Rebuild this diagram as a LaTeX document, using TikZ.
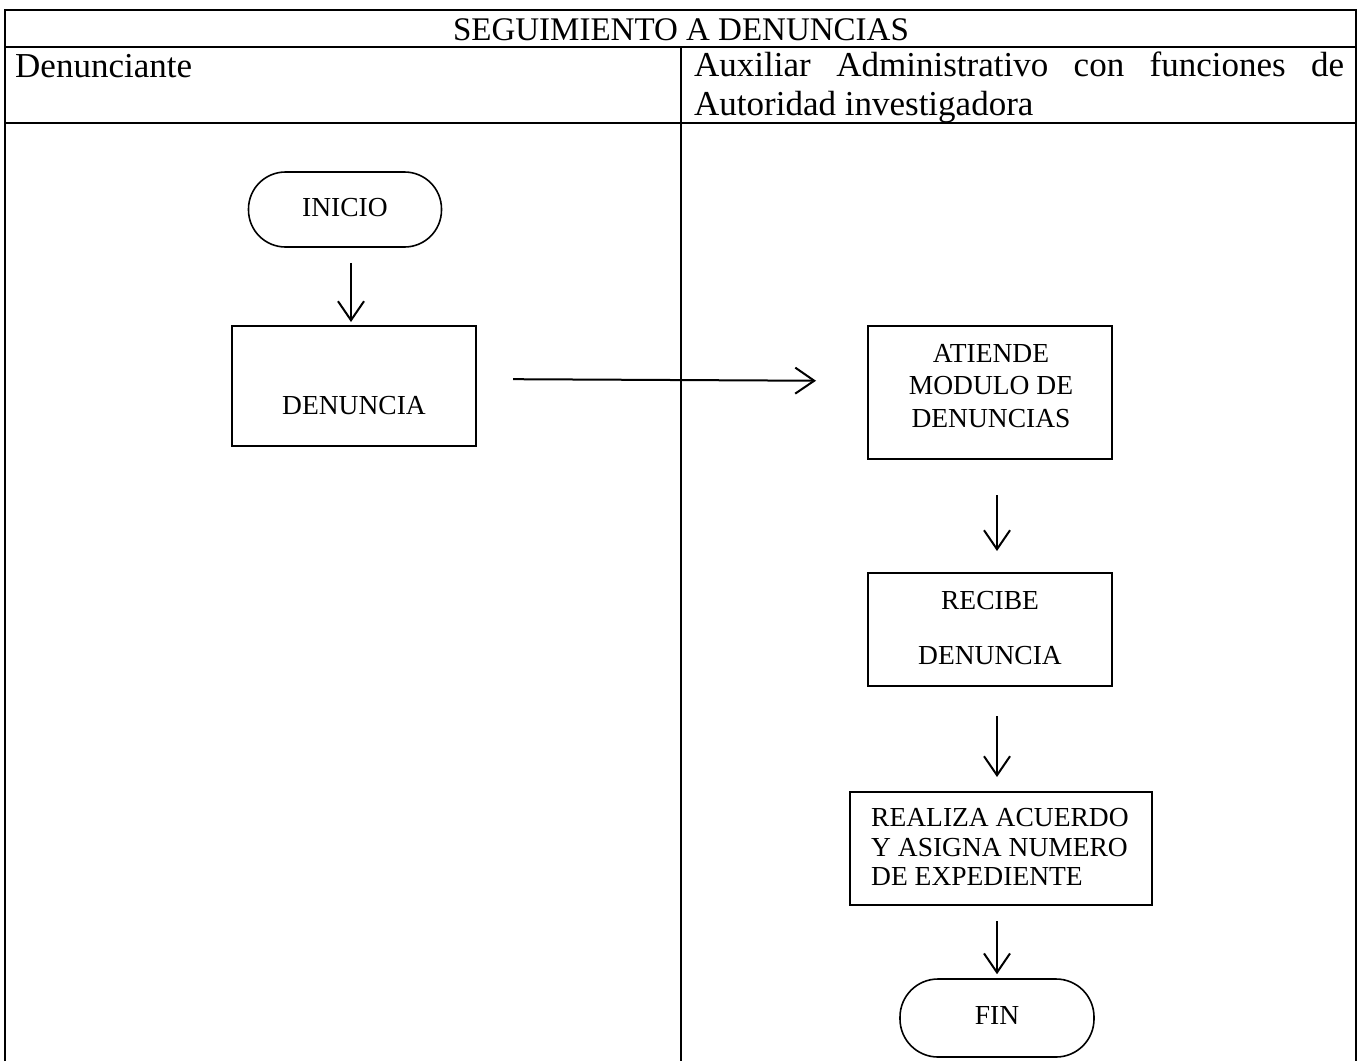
\documentclass[tikz,border=0pt]{standalone}
\usepackage{fontspec}
\setmainfont{Liberation Serif}
\usetikzlibrary{arrows.meta}
\begin{document}
\begin{tikzpicture}[x=1pt,y=-1pt,
  frame/.style={line width=2.6pt},
  stepbox/.style={draw,line width=2pt,inner sep=0pt},
  term/.style={draw,line width=1.6pt,inner sep=0pt},
  flow/.style={line width=2pt,-{Straight Barb[length=19pt,width=26pt,line width=2pt]}},
  boxtext/.style={font=\fontsize{27.5}{30}\selectfont,inner sep=0pt},
  lanetext/.style={font=\fontsize{35}{40}\selectfont,anchor=base west,inner sep=0pt},
]
\useasboundingbox (0,0) rectangle (1362,1061);

% table frame and lanes
\draw[frame] (5,1061) -- (5,10) -- (1356,10) -- (1356,1061);
\draw[frame] (5,47) -- (1356,47);
\draw[frame] (5,123) -- (1356,123);
\draw[frame] (681,47) -- (681,1061);

% headings
\node[anchor=base,font=\fontsize{33}{38}\selectfont,inner sep=0pt] (title) at (681,40) {SEGUIMIENTO A DENUNCIAS};
\node[lanetext] (laneA) at (15,77) {Denunciante};
\node[lanetext] (laneB1) at (694,76) {\makebox[650pt][s]{Auxiliar Administrativo con funciones de}};
\node[lanetext] (laneB2) at (694,115) {Autoridad investigadora};

% left lane
\node[term,rounded corners=37pt,minimum width=193,minimum height=75] (ini) at (345,209.5) {};
\node[boxtext] (iniT) at (345,208) {INICIO};
\node[stepbox,minimum width=244,minimum height=120] (den) at (354,386) {};
\node[boxtext] (denT) at (354,406) {DENUNCIA};

% right lane
\node[stepbox,minimum width=244,minimum height=133] (ate) at (990,392.5) {};
\node[boxtext,font=\fontsize{27.5}{32.5}\selectfont,align=center] (ateT) at (991,386) {ATIENDE\\MODULO DE\\DENUNCIAS};
\node[stepbox,minimum width=244,minimum height=113] (rec) at (990,629.5) {};
\node[boxtext,align=center] (recT) at (990,628) {RECIBE\\[25pt]DENUNCIA};
\node[stepbox,minimum width=302,minimum height=113] (rea) at (1001,848.5) {};
\node[boxtext,font=\fontsize{27.5}{29.5}\selectfont,align=left,anchor=west] (reaT) at (871,847) {REALIZA ACUERDO\\Y ASIGNA NUMERO\\DE EXPEDIENTE};
\node[term,rounded corners=38pt,minimum width=194,minimum height=78] (fin) at (997,1018) {};
\node[boxtext] (finT) at (997,1015) {FIN};

% connectors
\draw[flow,shorten <=15pt,shorten >=3pt] ([xshift=6pt]ini.south) -- ([xshift=-3pt]den.north);
\draw[flow,shorten <=36pt,shorten >=51pt] ([yshift=7pt]den.east) -- ([yshift=11.5pt]ate.west);
\draw[flow,shorten <=35pt,shorten >=21pt] ([xshift=7pt]ate.south) -- ([xshift=7pt]rec.north);
\draw[flow,shorten <=29pt,shorten >=14pt] ([xshift=7pt]rec.south) -- ([xshift=-4pt]rea.north);
\draw[flow,shorten <=15pt,shorten >=4pt] ([xshift=-4pt]rea.south) -- (fin.north);
\end{tikzpicture}
\end{document}
